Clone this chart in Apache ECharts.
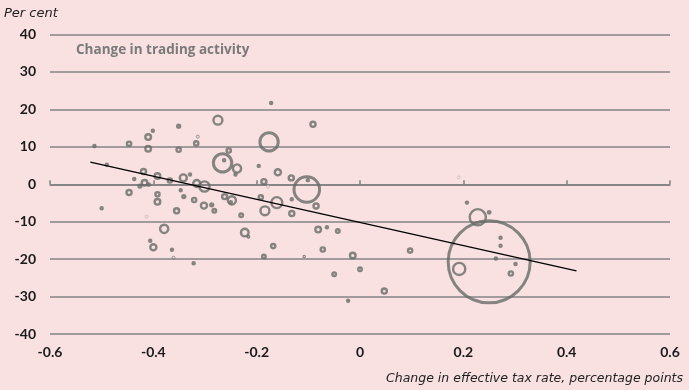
<!DOCTYPE html>
<html>
<head>
<meta charset="utf-8">
<script src="https://cdn.jsdelivr.net/npm/echarts@6/dist/echarts.min.js"></script>
<style>
html,body{margin:0;padding:0;background:#f9e0e1;}
#c{width:689px;height:390px;}
</style>
</head>
<body>
<div id="c"></div>
<script>
// Change in effective tax rate (percentage points)
const taxChange = [
 -0.275,-0.401,-0.351,-0.410,-0.514,-0.447,-0.410,-0.351,-0.317,-0.254,
 -0.266,-0.263,-0.238,-0.241,-0.196,-0.159,-0.186,-0.133,-0.103,-0.101,
 -0.172,-0.091,-0.176,-0.490,-0.419,-0.392,-0.437,-0.417,-0.426,-0.409,
 -0.368,-0.342,-0.329,-0.316,-0.301,-0.447,-0.347,-0.341,-0.392,-0.392,
 -0.321,-0.302,-0.287,-0.282,-0.355,-0.500,-0.379,-0.406,-0.400,-0.364,
 -0.322,-0.262,-0.248,-0.250,-0.230,-0.223,-0.216,-0.192,-0.184,-0.161,
 -0.132,-0.132,-0.085,-0.081,-0.064,-0.043,-0.168,-0.186,-0.108,-0.072,
 -0.014,0.000,-0.050,0.047,-0.023,0.207,0.228,0.250,0.250,0.272,
 0.272,0.263,0.301,0.292,0.192,0.097
];
// Change in trading activity (per cent)
const tradingChange = [
 17.1,14.3,15.5,12.6,10.2,10.8,9.5,9.2,10.9,9.0,
 5.7,6.4,4.2,2.6,4.9,3.2,0.7,1.7,-1.4,1.1,
 21.7,16.0,11.3,5.2,3.4,2.2,1.4,0.4,-0.5,-0.1,
 1.0,1.7,2.6,0.2,-0.6,-2.2,-1.6,-3.3,-2.7,-4.7,
 -4.2,-5.7,-5.5,-7.1,-7.1,-6.4,-11.9,-15.1,-16.8,-17.5,
 -21.1,-3.3,-4.3,-4.8,-8.3,-12.9,-14.0,-3.5,-7.1,-4.9,
 -4.0,-7.8,-5.8,-12.1,-11.5,-12.5,-16.5,-19.3,-19.3,-17.4,
 -19.0,-22.7,-24.0,-28.5,-31.1,-4.9,-8.8,-7.5,-20.7,-14.3,
 -16.4,-19.8,-21.3,-23.8,-22.6,-17.7
];
// Bubble weight (relative size of each observation)
const bubbleWeight = [
 32,5,7,16,5,11,16,11,11,11,
 114,5,28,5,5,18,14,14,204,5,
 5,14,114,5,14,16,5,16,7,6,
 11,22,5,22,40,14,5,7,11,16,
 11,18,7,9,14,5,28,5,18,5,
 5,14,28,5,9,25,4,11,32,45,
 5,14,14,16,5,9,11,9,3,11,
 16,9,9,14,5,5,86,6,1806,5,
 5,5,5,11,53,11
];
// Very small observations
const tinyX = [-0.314,-0.361];
const tinyY = [12.7,-19.6];
const paleX = [-0.178,-0.413,0.191];
const paleY = [-0.7,-8.6,1.8];
// Fitted trend line
const trendX = [-0.522,0.419];
const trendY = [5.9,-23.1];

const yTicks = [-40,-30,-20,-10,0,10,20,30,40];
const xTicks = [-0.6,-0.4,-0.2,0,0.2,0.4,0.6];

const bwOf = w => (w > 100 ? 3 : 2.4);
const mainData = taxChange.map((x,i)=>({
  value:[x,tradingChange[i],bubbleWeight[i]],
  itemStyle:{borderWidth: bwOf(bubbleWeight[i])}
}));

const chart = echarts.init(document.getElementById('c'), null, {renderer:'canvas'});
const fam = '"Open Sans", Lato, sans-serif';
const famIt = '"DejaVu Sans", "Open Sans", sans-serif';
const famNum = 'Lato, "Open Sans", sans-serif';
chart.setOption({
  backgroundColor:'#f9e0e1',
  animation:false,
  grid:{left:50,right:19,top:34.3,bottom:55.8},
  graphic:[
    {type:'text',left:4,top:7,style:{text:'Per cent',font:'italic 13px '+famIt,fill:'#222'}},
    {type:'text',left:76,top:43,style:{text:'Change in trading activity',font:'bold 13.5px '+fam,fill:'#7a7a7a'}},
    {type:'text',right:6,top:372,style:{text:'Change in effective tax rate, percentage points',font:'italic 12.5px '+famIt,fill:'#222'}}
  ],
  xAxis:{
    type:'value',min:xTicks[0],max:xTicks[xTicks.length-1],interval:0.2,
    axisLine:{show:true,lineStyle:{color:'#7f7f7f',width:1.5}},
    axisTick:{show:true,inside:true,length:4,lineStyle:{color:'#7f7f7f',width:1.5}},
    splitLine:{show:false},
    axisLabel:{margin:11,fontSize:14,fontWeight:'bold',color:'#1a1a1a',fontFamily:famNum,
      formatter:v=>{const r=Math.round(v*10)/10; return r===0?'0':r.toFixed(1);}}
  },
  yAxis:{
    type:'value',min:yTicks[0],max:yTicks[yTicks.length-1],interval:10,
    axisLine:{show:false},axisTick:{show:false},
    splitLine:{show:true,lineStyle:{color:'#858585',width:1.5}},
    axisLabel:{margin:14,fontSize:14,fontWeight:'bold',color:'#1a1a1a',fontFamily:famNum}
  },
  series:[
    {type:'scatter',data:mainData,
     symbolSize:d=>Math.max(1,2*Math.sqrt(d[2])-bwOf(d[2])),
     itemStyle:{color:'rgba(0,0,0,0)',borderColor:'#686b67'},z:3},
    {type:'scatter',data:tinyX.map((x,i)=>[x,tinyY[i]]),symbolSize:3,
     itemStyle:{color:'rgba(0,0,0,0)',borderColor:'#7d807c',borderWidth:1},z:3},
    {type:'scatter',data:paleX.map((x,i)=>[x,paleY[i]]),symbolSize:3,
     itemStyle:{color:'rgba(0,0,0,0)',borderColor:'#c8b8b9',borderWidth:1},z:3},
    {type:'line',data:trendX.map((x,i)=>[x,trendY[i]]),showSymbol:false,symbol:'none',
     lineStyle:{color:'#000',width:1.2},z:4}
  ]
});
</script>
</body>
</html>
